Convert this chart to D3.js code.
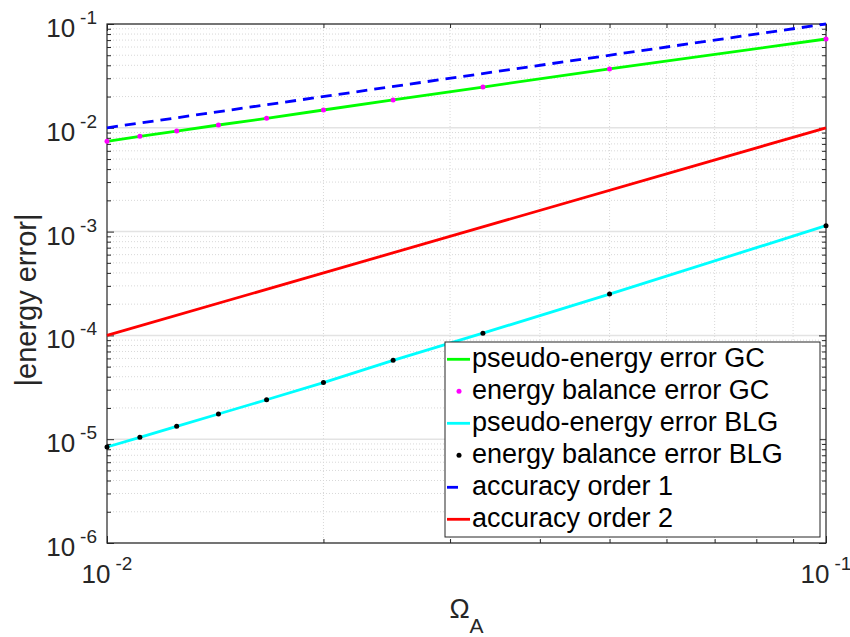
<!DOCTYPE html>
<html><head><meta charset="utf-8">
<script src="https://cdn.jsdelivr.net/npm/d3@7"></script>
<style>body{margin:0;background:#fff}svg{display:block;font-family:"Liberation Sans",Arial,Helvetica,sans-serif}</style>
</head><body><svg id="c" width="850" height="637"></svg>
<script>
// ---- data ----
const omega = [0.01, 0.01111, 0.0125, 0.01429, 0.01667, 0.02, 0.025, 0.03333, 0.05, 0.1];
const pseudoGC = [7.41e-3, 8.28e-3, 9.31e-3, 1.064e-2, 1.233e-2, 1.484e-2, 1.855e-2, 2.47e-2, 3.69e-2, 7.17e-2];
const balanceGC = [7.41e-3, 8.28e-3, 9.31e-3, 1.064e-2, 1.233e-2, 1.484e-2, 1.855e-2, 2.47e-2, 3.69e-2, 7.17e-2];
const pseudoBLG = [8.41e-6, 1.042e-5, 1.33e-5, 1.75e-5, 2.40e-5, 3.51e-5, 5.75e-5, 1.05e-4, 2.50e-4, 1.14e-3];
const balanceBLG = [8.41e-6, 1.042e-5, 1.33e-5, 1.75e-5, 2.40e-5, 3.51e-5, 5.75e-5, 1.05e-4, 2.50e-4, 1.14e-3];
const orderX = [0.01, 0.1];
const order1 = [0.01, 0.1];
const order2 = [1e-4, 1e-2];
const xMajorTicks = [0.01, 0.1];
const xTickLabels = ["-2", "-1"];
const yMajorTicks = [1e-6, 1e-5, 1e-4, 1e-3, 1e-2, 1e-1];
const yTickLabels = ["-6", "-5", "-4", "-3", "-2", "-1"];
const legendLabels = ["pseudo-energy error GC", "energy balance error GC", "pseudo-energy error BLG",
  "energy balance error BLG", "accuracy order 1", "accuracy order 2"];

// ---- layout ----
const L = 107, R = 826, T = 24, B = 543;
const svg = d3.select("#c");
const x = d3.scaleLog().domain([0.01, 0.1]).range([L, R]);
const y = d3.scaleLog().domain([1e-6, 1e-1]).range([B, T]);
const axisCol = "#262626";

// minor ticks
const xMinor = [];
for (let k = 2; k <= 9; k++) xMinor.push(k * 0.01);
const yMinor = [];
yMajorTicks.slice(0, -1).forEach(d => { for (let k = 2; k <= 9; k++) yMinor.push(k * d); });

// grid
const g = svg.append("g");
g.selectAll(".xmg").data(xMinor).join("line")
  .attr("x1", d => x(d)).attr("x2", d => x(d)).attr("y1", T).attr("y2", B)
  .attr("stroke", "#d8d8d8").attr("stroke-dasharray", "1,2");
g.selectAll(".ymg").data(yMinor).join("line")
  .attr("y1", d => y(d)).attr("y2", d => y(d)).attr("x1", L).attr("x2", R)
  .attr("stroke", "#d8d8d8").attr("stroke-dasharray", "1,2");
g.selectAll(".yMg").data(yMajorTicks).join("line")
  .attr("y1", d => y(d)).attr("y2", d => y(d)).attr("x1", L).attr("x2", R)
  .attr("stroke", "#e3e3e3").attr("stroke-width", 1.5);

// axes via d3 axis generators (inner ticks, both sides)
function addAxis(gen, tr) {
  const a = svg.append("g").attr("transform", tr).call(gen);
  a.selectAll("text").remove();
  a.select(".domain").remove();
  a.selectAll("line").attr("stroke", axisCol);
  return a;
}
addAxis(d3.axisBottom(x).tickValues(xMajorTicks).tickSize(-7), `translate(0,${B})`);
addAxis(d3.axisBottom(x).tickValues(xMinor).tickSize(-4), `translate(0,${B})`);
addAxis(d3.axisTop(x).tickValues(xMajorTicks).tickSize(-7), `translate(0,${T})`);
addAxis(d3.axisTop(x).tickValues(xMinor).tickSize(-4), `translate(0,${T})`);
addAxis(d3.axisLeft(y).tickValues(yMajorTicks).tickSize(-7), `translate(${L},0)`);
addAxis(d3.axisLeft(y).tickValues(yMinor).tickSize(-4), `translate(${L},0)`);
addAxis(d3.axisRight(y).tickValues(yMajorTicks).tickSize(-7), `translate(${R},0)`);
addAxis(d3.axisRight(y).tickValues(yMinor).tickSize(-4), `translate(${R},0)`);

svg.append("rect").attr("x", L).attr("y", T).attr("width", R - L).attr("height", B - T)
  .attr("fill", "none").attr("stroke", axisCol).attr("stroke-width", 1.2);

// tick labels
yMajorTicks.forEach((d, i) => {
  const t = svg.append("text").attr("x", 97).attr("y", y(d) + 13).attr("text-anchor", "end")
    .attr("fill", axisCol).attr("font-size", 26);
  t.append("tspan").text("10");
  t.append("tspan").attr("dx", 5).attr("dy", -13).attr("font-size", 19).text(yTickLabels[i]);
});
xMajorTicks.forEach((d, i) => {
  const t = svg.append("text").attr("x", x(d)).attr("y", B + 40).attr("text-anchor", "middle")
    .attr("fill", axisCol).attr("font-size", 26);
  t.append("tspan").text("10");
  t.append("tspan").attr("dx", 5).attr("dy", -13).attr("font-size", 19).text(xTickLabels[i]);
});

// axis titles
const xt = svg.append("text").attr("x", (L + R) / 2).attr("y", 618).attr("text-anchor", "middle")
  .attr("fill", axisCol).attr("font-size", 27);
xt.append("tspan").text("Ω");
xt.append("tspan").attr("dy", 15).attr("font-size", 21).text("A");
svg.append("text").attr("transform", `translate(36,300) rotate(-90)`)
  .attr("text-anchor", "middle").attr("fill", axisCol).attr("font-size", 29).text("|energy error|");

// series
const line = (xs, ys) => d3.line().x((d, i) => x(xs[i])).y(d => y(d))(ys);
const plot = svg.append("g");
const LW = 2.8;
plot.append("path").attr("d", line(omega, pseudoGC)).attr("fill", "none").attr("stroke", "#00ff00").attr("stroke-width", LW);
plot.selectAll(".mg").data(balanceGC).join("circle").attr("cx", (d, i) => x(omega[i])).attr("cy", d => y(d)).attr("r", 2.5).attr("fill", "#ff00ff");
plot.append("path").attr("d", line(omega, pseudoBLG)).attr("fill", "none").attr("stroke", "#00ffff").attr("stroke-width", LW);
plot.selectAll(".mb").data(balanceBLG).join("circle").attr("cx", (d, i) => x(omega[i])).attr("cy", d => y(d)).attr("r", 2.5).attr("fill", "#000");
plot.append("path").attr("d", line(orderX, order1)).attr("fill", "none").attr("stroke", "#0000ff").attr("stroke-width", LW).attr("stroke-dasharray", "11,7");
plot.append("path").attr("d", line(orderX, order2)).attr("fill", "none").attr("stroke", "#ff0000").attr("stroke-width", LW);

// legend
const lg = svg.append("g");
lg.append("rect").attr("x", 445).attr("y", 342).attr("width", 375).attr("height", 195)
  .attr("fill", "#fff").attr("stroke", axisCol).attr("stroke-width", 1);
const styles = [
  {type: "line", c: "#00ff00"}, {type: "dot", c: "#ff00ff"}, {type: "line", c: "#00ffff"},
  {type: "dot", c: "#000"}, {type: "dash", c: "#0000ff"}, {type: "line", c: "#ff0000"}];
legendLabels.forEach((lab, i) => {
  const cy = 359.3 + i * 32;
  const s = styles[i];
  if (s.type === "dot") lg.append("circle").attr("cx", 459).attr("cy", cy).attr("r", 2.5).attr("fill", s.c);
  else lg.append("line").attr("x1", 447).attr("x2", 470).attr("y1", cy).attr("y2", cy)
    .attr("stroke", s.c).attr("stroke-width", LW).attr("stroke-dasharray", s.type === "dash" ? "11,13" : null);
  lg.append("text").attr("x", 472).attr("y", cy + 8).attr("font-size", 27).attr("fill", "#000").text(lab);
});
</script></body></html>
